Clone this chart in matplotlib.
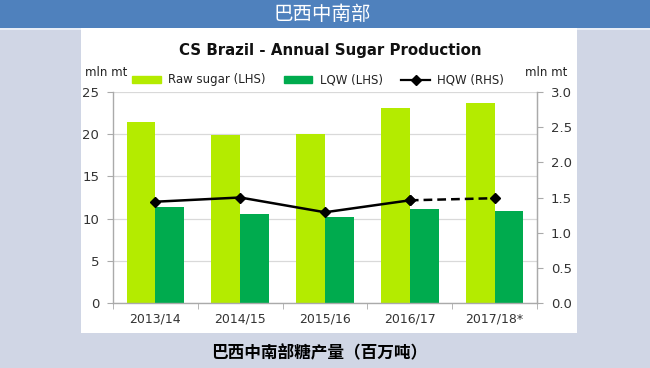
import matplotlib
matplotlib.use("Agg")
import matplotlib.pyplot as plt
from matplotlib.patches import Rectangle
from matplotlib.lines import Line2D
import numpy as np

categories = ["2013/14", "2014/15", "2015/16", "2016/17", "2017/18*"]
raw_sugar = [21.5, 19.85, 20.0, 23.15, 23.75]
lqw = [11.4, 10.6, 10.15, 11.1, 10.95]
hqw = [1.44, 1.50, 1.29, 1.46, 1.49]
left_ticks = [0, 5, 10, 15, 20, 25]
right_ticks = [0.0, 0.5, 1.0, 1.5, 2.0, 2.5, 3.0]

RAW_C = "#B4EB00"
LQW_C = "#00AB4E"
BG = "#D0D6E5"
BLUE = "#4F81BD"

plt.rcParams['font.family'] = ['DejaVu Sans', 'Noto Sans CJK SC']

fig = plt.figure(figsize=(6.5, 3.68), dpi=100)
fig.patch.set_facecolor(BG)
W, H = 650, 368

def fx(px):
    return px / W

def fy(py):
    return 1 - py / H

# top banner
fig.patches.append(Rectangle((0, fy(28)), 1, 28 / H, transform=fig.transFigure,
                             facecolor=BLUE, edgecolor="none", zorder=-5))
fig.patches.append(Rectangle((0, fy(30)), 1, 2 / H, transform=fig.transFigure,
                             facecolor="#E8EDF6", edgecolor="none", zorder=-5))
# white panel
fig.patches.append(Rectangle((fx(81), fy(333)), fx(577) - fx(81), (333 - 28) / H,
                             transform=fig.transFigure, facecolor="white",
                             edgecolor="none", zorder=-5))

fig.text(fx(322), fy(14), "巴西中南部", color="white", fontsize=14,
         ha="center", va="center", family=['Noto Sans CJK SC', 'DejaVu Sans'])
fig.text(fx(319), fy(353), "巴西中南部糖产量（百万吨）", color="black", fontsize=12,
         fontweight="bold", ha="center", va="center",
         family=['Noto Sans CJK SC', 'DejaVu Sans'])

ax = fig.add_axes([fx(113), fy(303), fx(537) - fx(113), (303 - 92) / H])
ax.set_zorder(2)
ax.set_facecolor("none")
x = np.arange(len(categories))
bw = 0.34
ax.bar(x - bw / 2, raw_sugar, width=bw, color=RAW_C, zorder=2, label="Raw sugar (LHS)")
ax.bar(x + bw / 2, lqw, width=bw, color=LQW_C, zorder=2, label="LQW (LHS)")
ax.set_xlim(-0.5, len(categories) - 0.5)
ax.set_ylim(0, 25)
ax.set_yticks(left_ticks)
ax.set_yticklabels([str(t) for t in left_ticks])
ax.set_xticks(x)
ax.set_xticklabels(categories)
ax.set_xticks(np.arange(len(categories) + 1) - 0.5, minor=True)
ax.tick_params(axis="x", which="major", length=0, pad=7, labelsize=9, colors="#333333")
ax.tick_params(axis="x", which="minor", length=4, color="#aaaaaa", direction="out")
ax.tick_params(axis="y", length=4, color="#aaaaaa", labelsize=9.5, pad=6, labelcolor="#333333")
ax.grid(axis="y", color="#d9d9d9", linewidth=0.9, zorder=0)
ax.set_axisbelow(True)
ax.spines["top"].set_visible(False)
for s in ["left", "right", "bottom"]:
    ax.spines[s].set_color("#aaaaaa")
    ax.spines[s].set_linewidth(1.0)

ax2 = ax.twinx()
ax2.set_zorder(3)
ax2.set_ylim(0, 3.0)
ax2.set_yticks(right_ticks)
ax2.set_yticklabels([f"{t:.1f}" for t in right_ticks])
ax2.tick_params(axis="y", length=4, color="#aaaaaa", labelsize=9.5, pad=6, labelcolor="#333333")
for s in ["top", "left", "bottom"]:
    ax2.spines[s].set_visible(False)
ax2.spines["right"].set_color("#aaaaaa")
ax2.plot(x[:4], hqw[:4], color="black", linewidth=1.8, marker="D", markersize=5.5, zorder=5)
ax2.plot(x[3:], hqw[3:], color="black", linewidth=1.8, linestyle=(0, (3.5, 2)),
         marker="D", markersize=5.5, zorder=5)

fig.text(fx(330), fy(50), "CS Brazil - Annual Sugar Production", fontsize=10.8,
         fontweight="bold", ha="center", va="center", color="#111111")
fig.text(fx(106), fy(73), "mln mt", fontsize=8.5, ha="center", va="center", color="#222222")
fig.text(fx(546), fy(73), "mln mt", fontsize=8.5, ha="center", va="center", color="#222222")

handles = [Rectangle((0, 0), 1, 1, color=RAW_C), Rectangle((0, 0), 1, 1, color=LQW_C),
           Line2D([], [], color="black", marker="D", markersize=5, linewidth=1.6)]
labels = ["Raw sugar (LHS)", "LQW (LHS)", "HQW (RHS)"]
leg = fig.legend(handles, labels, loc="center", bbox_to_anchor=(fx(318), fy(80)),
                 ncol=3, frameon=False, fontsize=8.5, handlelength=2.4, handleheight=0.5,
                 columnspacing=1.6, handletextpad=0.6)
for t in leg.get_texts():
    t.set_color("#222222")

fig.savefig("out.png", dpi=100, facecolor=fig.get_facecolor())
